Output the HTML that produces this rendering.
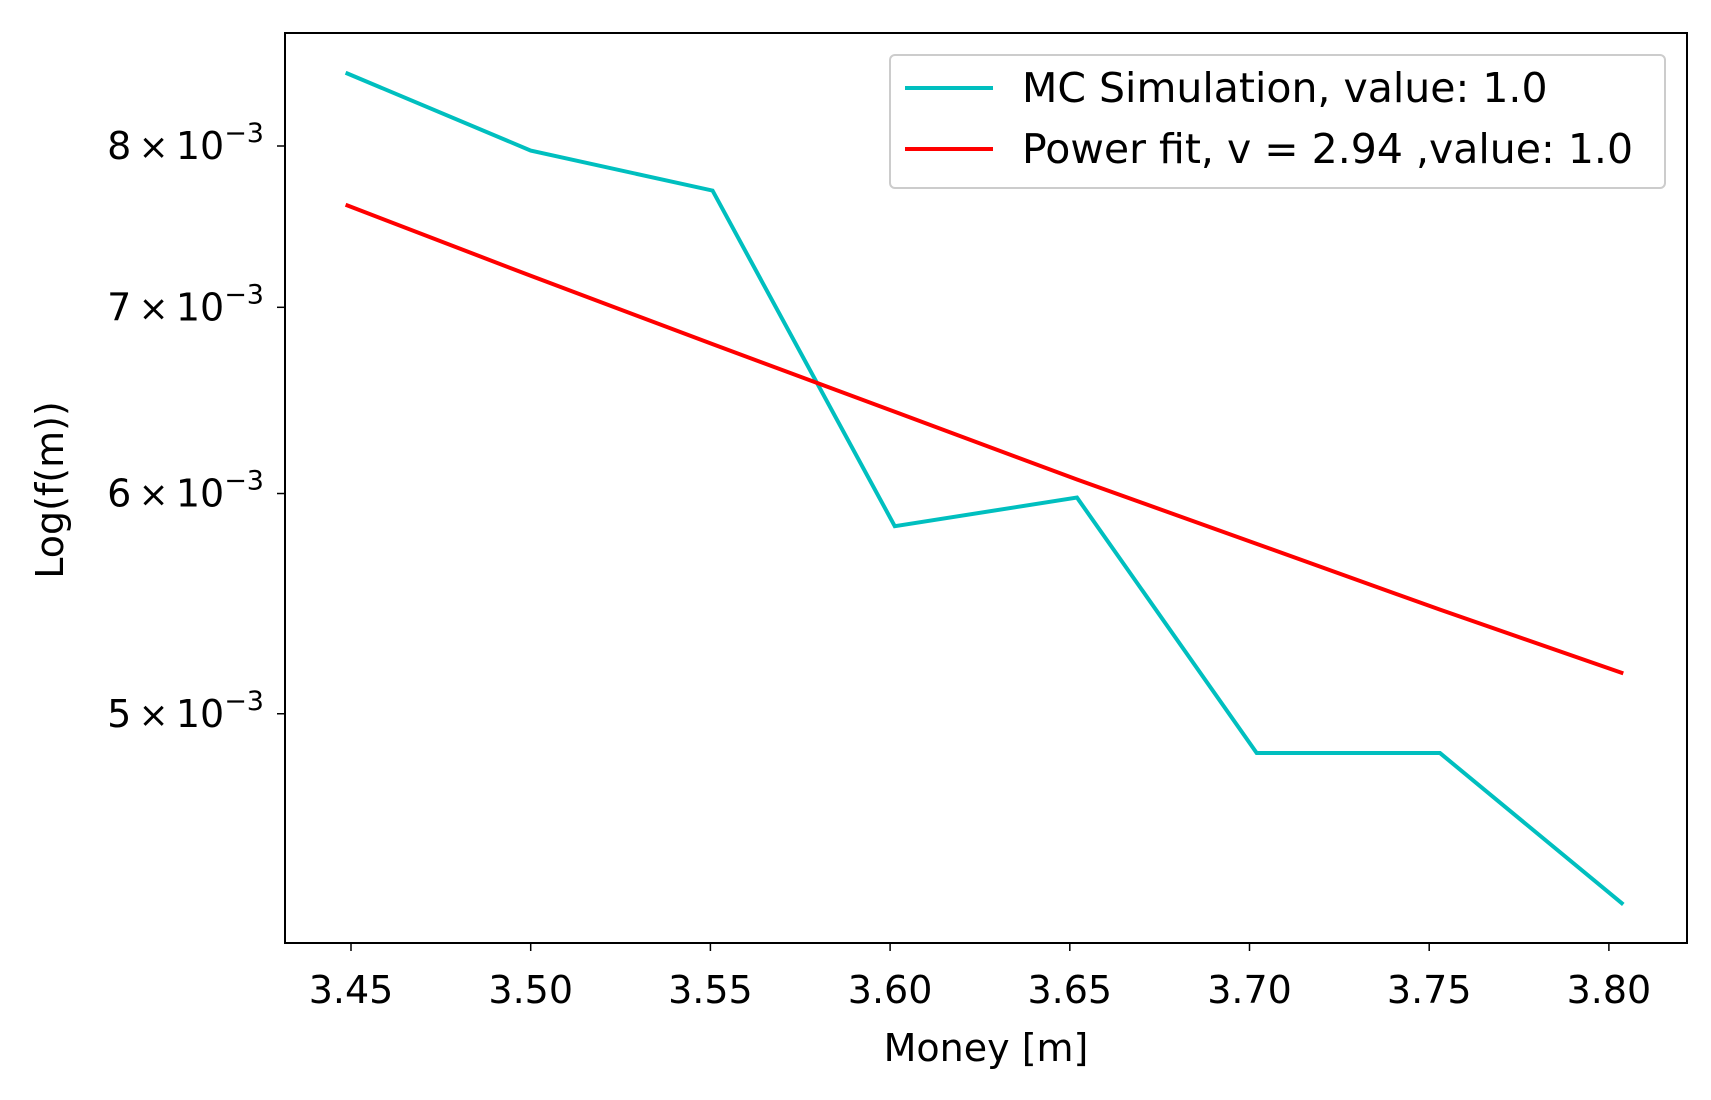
<!DOCTYPE html>
<html><head><meta charset="utf-8"><style>
html,body{margin:0;padding:0;background:#fff;}
svg text{font-family:"DejaVu Sans","Liberation Sans",sans-serif;fill:#000;}
</style></head><body>
<svg id="chart" width="1711" height="1095" xmlns="http://www.w3.org/2000/svg"></svg>
<script>
const xs=[3.4485,3.500,3.5506,3.6013,3.652,3.702,3.753,3.804];
const mcValues=[8.50e-3,7.97e-3,7.71e-3,5.84e-3,5.98e-3,4.84e-3,4.84e-3,4.27e-3];
const fitValues=[7.62e-3,7.185e-3,6.79e-3,6.42e-3,6.07e-3,5.755e-3,5.45e-3,5.17e-3];
const xTicks=[3.45,3.50,3.55,3.60,3.65,3.70,3.75,3.80];
const yTicks=[8e-3,7e-3,6e-3,5e-3];
const yTickMant=["8","7","6","5"];
const NS="http://www.w3.org/2000/svg";
const svg=document.getElementById('chart');
const L=285,R=1687,T=33,B=943;
function sx(v){return 351+(v-3.45)/0.05*179.7;}
function sy(v){return 146+Math.log(8e-3/v)*1208;}
function mk(tag,a,p){const e=document.createElementNS(NS,tag);for(const k in a)e.setAttribute(k,a[k]);(p||svg).appendChild(e);return e;}
function line(vals,color,name){
  const p=mk('polyline',{points:xs.map((x,i)=>sx(x)+','+sy(vals[i])).join(' '),fill:'none',stroke:color,'stroke-width':4,'stroke-linejoin':'miter'});
  
  
}
line(mcValues,'#00bfbf','mc-simulation-line');
line(fitValues,'#ff0000','power-fit-line');
const frame=mk('rect',{x:L,y:T,width:R-L,height:B-T,fill:'none',stroke:'#000','stroke-width':2});


xTicks.forEach(v=>{
  const x=sx(v);
  mk('line',{x1:x,y1:B,x2:x,y2:B+8,stroke:'#000','stroke-width':1.5});
  const t=mk('text',{x:x,y:1003,'font-size':38,'text-anchor':'middle'});t.textContent=v.toFixed(2);
  
  
});
yTicks.forEach((v,i)=>{
  const y=sy(v);
  mk('line',{x1:L-8,y1:y,x2:L,y2:y,stroke:'#000','stroke-width':1.5});
  const t=mk('text',{x:264,y:y+13,'font-size':38,'text-anchor':'end'});
  t.innerHTML=yTickMant[i]+'<tspan font-size="36">\u2009\u00d7\u2009</tspan>10<tspan dy="-17" font-size="27">\u22123</tspan>';
  
  
});
const xl=mk('text',{x:(L+R)/2,y:1061,'font-size':38,'text-anchor':'middle'});xl.textContent='Money [m]';


const yl=mk('text',{x:0,y:0,'font-size':38,'text-anchor':'middle',transform:'translate(63,490) rotate(-90)'});yl.textContent='Log(f(m))';


const lg=mk('g',{});


mk('rect',{x:890,y:55,width:775,height:133,rx:5,fill:'#fff','fill-opacity':0.8,stroke:'#ccc','stroke-width':2},lg);
const entries=[['#00bfbf','MC Simulation, value: 1.0',88],['#ff0000','Power fit, v = 2.94 ,value: 1.0',149]];
entries.forEach(e=>{
  mk('line',{x1:905,y1:e[2],x2:993,y2:e[2],stroke:e[0],'stroke-width':4},lg);
  const t=mk('text',{x:1022,y:e[2]+14,'font-size':41},lg);t.textContent=e[1];
  
  
});
</script>
</body></html>
